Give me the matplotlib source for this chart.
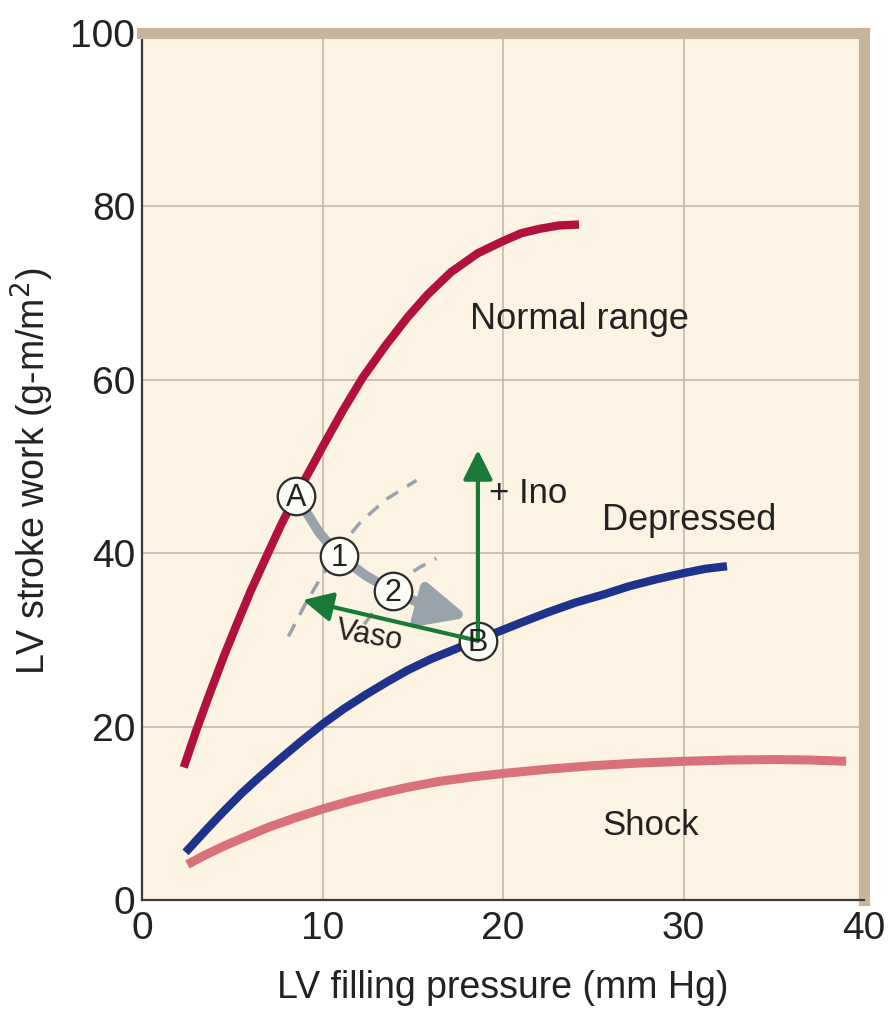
import matplotlib
matplotlib.use("Agg")
import matplotlib.pyplot as plt

plt.rcParams['font.family'] = ['Liberation Sans', 'DejaVu Sans']

# curves (LV filling pressure, LV stroke work)
normal_x = [2.3, 3.0, 3.7, 4.5, 5.2, 6.0, 6.9, 7.7, 8.5, 9.3, 10.0, 11.1, 12.2,
            13.5, 14.7, 15.8, 17.1, 18.6, 20.0, 21.0, 22.0, 23.1, 24.2]
normal_y = [15.3, 19.6, 23.6, 28.0, 31.6, 35.6, 39.7, 43.3, 46.6, 49.6, 52.3, 56.4, 60.2,
            64.0, 67.2, 69.8, 72.4, 74.6, 76.0, 76.9, 77.4, 77.8, 77.9]

depressed_x = [2.4, 3.5, 4.5, 5.5, 6.5, 7.6, 8.8, 10.0, 11.2, 12.4, 13.6, 14.7, 16.0,
               17.3, 18.6, 19.8, 21.0, 22.5, 24.0, 25.5, 27.0, 28.5, 30.0, 31.2, 32.4]
depressed_y = [5.5, 8.0, 10.2, 12.3, 14.2, 16.2, 18.3, 20.3, 22.1, 23.7, 25.2, 26.5, 27.8,
               28.9, 30.0, 31.0, 32.0, 33.2, 34.3, 35.2, 36.2, 37.0, 37.7, 38.2, 38.5]

shock_x = [2.5, 3.5, 4.5, 5.5, 7.0, 8.5, 10.0, 11.5, 13.0, 14.7, 16.5, 18.3, 20.0,
           22.5, 25.0, 27.5, 30.0, 32.5, 35.0, 37.0, 39.0]
shock_y = [4.1, 5.2, 6.2, 7.1, 8.4, 9.5, 10.5, 11.4, 12.2, 13.0, 13.7, 14.2, 14.6,
           15.1, 15.5, 15.8, 16.0, 16.15, 16.2, 16.15, 16.0]

# dashed intermediate curves
dash_upper_x = [8.1, 9.0, 9.9, 11.0, 12.1, 13.5, 15.2]
dash_upper_y = [30.4, 34.0, 37.2, 40.8, 43.6, 46.2, 48.4]
dash_lower_x = [12.3, 13.3, 14.5, 15.4, 16.3]
dash_lower_y = [31.8, 34.6, 37.2, 38.4, 39.4]

# path A -> 1 -> 2 -> B
path_x = [8.9, 9.8, 10.9, 12.4, 13.9, 15.2, 16.2]
path_y = [45.4, 42.4, 39.7, 37.4, 35.6, 34.4, 33.6]
path_tip = (18.1, 32.6)

point_a = (8.5, 46.6)
point_b = (18.6, 29.9)
step_1 = (10.9, 39.7)
step_2 = (13.9, 35.6)
vaso_tip = (8.9, 34.6)
ino_tip = (18.6, 51.9)

x_ticks = [0, 10, 20, 30, 40]
y_ticks = [0, 20, 40, 60, 80, 100]

red = '#b3113d'
blue = '#1f338c'
pink = '#d9717b'
green = '#187a36'
grey = '#98a3ab'
text_col = '#222222'

fig = plt.figure(figsize=(8.89, 10.13), dpi=100)
ax = fig.add_axes([0.16, 0.1115, 0.812, 0.856])
ax.set_facecolor('#fdf3e2')

ax.set_xlim(0, 40)
ax.set_ylim(0, 100)
ax.set_xticks(x_ticks)
ax.set_yticks(y_ticks)
ax.tick_params(length=0, labelsize=28, colors=text_col)
ax.tick_params(axis='y', pad=5)
ax.tick_params(axis='x', pad=8)
ax.grid(True, color='#bdb6a8', lw=1.1)
ax.set_axisbelow(True)

for side in ['top', 'right']:
    ax.spines[side].set_color('#c8b49a')
    ax.spines[side].set_linewidth(8)
for side in ['left', 'bottom']:
    ax.spines[side].set_color('#3a3a3a')
    ax.spines[side].set_linewidth(1.6)

ax.set_xlabel('LV filling pressure (mm Hg)', fontsize=27, color=text_col)
ax.set_ylabel('LV stroke work (g-m/m$^2$)', fontsize=27, color=text_col)
ax.xaxis.set_label_coords(0.5, -0.081)
ax.yaxis.set_label_coords(-0.120, 0.494)

# dashed grey curves
ax.plot(dash_upper_x, dash_upper_y, color=grey, lw=2.5, ls=(0, (4, 3)))
ax.plot(dash_lower_x, dash_lower_y, color=grey, lw=2.5, ls=(0, (4, 3)))

# grey path with arrow
ax.plot(path_x, path_y, color=grey, lw=7, solid_capstyle='butt', solid_joinstyle='round')
ax.annotate('', xy=path_tip, xytext=(path_x[-1] - 0.4, path_y[-1] + 0.3),
            arrowprops=dict(arrowstyle='-|>,head_length=1.4,head_width=0.65',
                            color=grey, lw=7, mutation_scale=20,
                            shrinkA=0, shrinkB=0))

# main curves
ax.plot(normal_x, normal_y, color=red, lw=6, solid_capstyle='butt')
ax.plot(depressed_x, depressed_y, color=blue, lw=6, solid_capstyle='butt')
ax.plot(shock_x, shock_y, color=pink, lw=6.5, solid_capstyle='butt')

# green arrows
for tip in [vaso_tip, ino_tip]:
    ax.annotate('', xy=tip, xytext=point_b,
                arrowprops=dict(arrowstyle='-|>,head_length=0.9,head_width=0.45',
                                color=green, lw=3, mutation_scale=20,
                                shrinkA=0, shrinkB=0))

# circles
for (cx, cy), lab in [(point_a, 'A'), (point_b, 'B'), (step_1, '1'), (step_2, '2')]:
    ax.plot(cx, cy, marker='o', ms=27, mfc='#fbfbf8', mec='#2a2a2a', mew=1.6)
    ax.text(cx, cy - 0.2, lab, fontsize=22, color=text_col, ha='center', va='center')

# labels
ax.text(24.2, 66.9, 'Normal range', fontsize=26, color=text_col, ha='center', va='center')
ax.text(30.3, 43.8, 'Depressed', fontsize=26, color=text_col, ha='center', va='center')
ax.text(28.2, 8.6, 'Shock', fontsize=25, color=text_col, ha='center', va='center')
ax.text(19.2, 46.9, '+ Ino', fontsize=25, color=text_col, ha='left', va='center')
ax.text(12.6, 30.4, 'Vaso', fontsize=22, color=text_col, ha='center', va='center',
        rotation=-10)

fig.savefig('out.png', dpi=100, facecolor='white')
